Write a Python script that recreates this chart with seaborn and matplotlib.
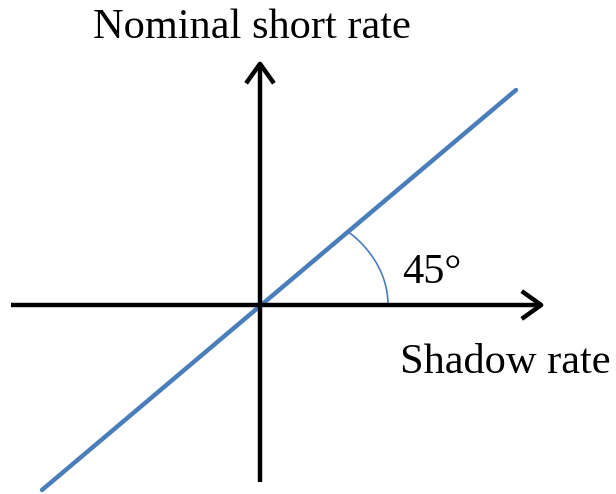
import numpy as np
import pandas as pd
import matplotlib
matplotlib.use("Agg")
import matplotlib.pyplot as plt
import seaborn as sns

# Diagram data (origin = intersection of the axes)
line_x = [-218, 256]          # shadow rate (45-degree line) endpoints
line_y = [-185, 215]          # nominal short rate
h_axis_x = [-249, 285]        # horizontal axis extent (arrow at right)
v_axis_y = [-177, 245]        # vertical axis extent (arrow at top)
arc_a, arc_b = 128, 101       # angle-marker arc semi-axes
y_label = "Nominal short rate"
x_label = "Shadow rate"
angle_label = "45°"

sns.set_theme(style="white")
plt.rcParams['font.family'] = ['Liberation Serif', 'DejaVu Serif']

fig = plt.figure(figsize=(6.16, 4.94), dpi=100)
ax = fig.add_axes([0, 0, 1, 1])
ax.set_xlim(-260, 356)
ax.set_ylim(-189, 305)
ax.axis("off")

blue = "#4a7ebb"

# Axes with arrows
arrow_style = "->,head_length=0.7,head_width=0.5"
for xy, xytext in [((h_axis_x[1], 0), (h_axis_x[0], 0)),
                   ((0, v_axis_y[1]), (0, v_axis_y[0]))]:
    ax.annotate("", xy=xy, xytext=xytext,
                arrowprops=dict(arrowstyle=arrow_style, lw=3.2, color="black",
                                shrinkA=0, shrinkB=0, mutation_scale=20,
                                joinstyle="round", capstyle="butt"))

# 45-degree line
df = pd.DataFrame({"x": line_x, "y": line_y})
sns.lineplot(data=df, x="x", y="y", ax=ax, color=blue, lw=3.2, sort=False)

# angle arc
t_end = np.arctan2(line_y[1] / arc_b, line_x[1] / arc_a)
t = np.linspace(0, t_end, 60)
arc = pd.DataFrame({"x": arc_a * np.cos(t), "y": arc_b * np.sin(t)})
sns.lineplot(data=arc, x="x", y="y", ax=ax, color=blue, lw=1.2, sort=False)

ax.text(-8, 267, y_label, ha="center", va="baseline", fontsize=30.5, color="black")
ax.text(140, -68, x_label, ha="left", va="baseline", fontsize=30.5, color="black")
ax.text(142, 22, angle_label, ha="left", va="baseline", fontsize=30.5, color="black")

fig.savefig("out.png", dpi=100)
